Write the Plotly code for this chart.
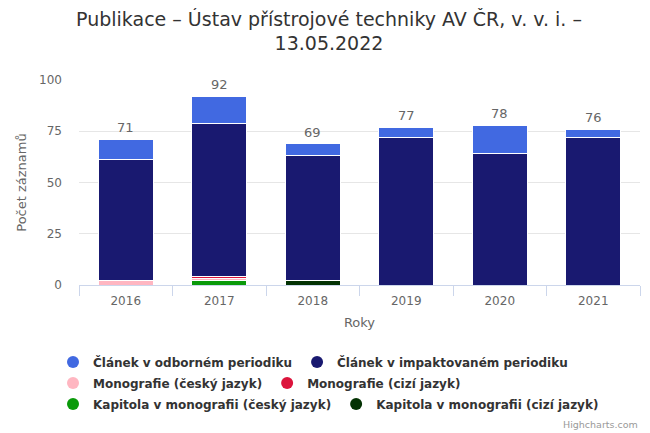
import plotly.graph_objects as go

years = ["2016", "2017", "2018", "2019", "2020", "2021"]

series_names = [
    "Článek v odborném periodiku",
    "Článek v impaktovaném periodiku",
    "Monografie (český jazyk)",
    "Monografie (cizí jazyk)",
    "Kapitola v monografii (český jazyk)",
    "Kapitola v monografii (cizí jazyk)",
]
clanek_odborny = [10, 13, 6, 5, 14, 4]
clanek_impakt = [59, 75, 61, 72, 64, 72]
monografie_cz = [2, 1, 0, 0, 0, 0]
monografie_cizi = [0, 1, 0, 0, 0, 0]
kapitola_cz = [0, 2, 0, 0, 0, 0]
kapitola_cizi = [0, 0, 2, 0, 0, 0]

colors = ["#4169e1", "#191970", "#ffb6c1", "#dc143c", "#0a9a0a", "#033203"]
values = [clanek_odborny, clanek_impakt, monografie_cz, monografie_cizi, kapitola_cz, kapitola_cizi]

totals = [sum(v[i] for v in values) for i in range(len(years))]

FONT = "DejaVu Sans"

# page body has an 8px margin: figure is drawn 8px smaller and offset
W, H = 642, 425
ML, MR, MT, MB = 71, 10, 72, 148
PH = H - MT - MB  # plot height in px


def py(px_from_top):
    """convert figure pixel y (from top) to paper y"""
    return 1 - (px_from_top - MT) / PH


def px_(px_from_left):
    return (px_from_left - ML) / (W - ML - MR)


fig = go.Figure()
# bars: bottom-most first in stacking order, legend handled by circle markers
stack_order = [5, 4, 2, 3, 1, 0]
for idx in stack_order:
    fig.add_trace(go.Bar(
        x=years, y=values[idx], name=series_names[idx],
        marker=dict(color=colors[idx], line=dict(color="white", width=1)),
        legendgroup=series_names[idx], showlegend=False,
        hoverinfo="x+y+name",
    ))

legend_ids = ["legend", "legend", "legend2", "legend2", "legend3", "legend3"]
for idx in range(len(series_names)):
    fig.add_trace(go.Scatter(
        x=[None], y=[None], mode="markers", name=series_names[idx],
        marker=dict(color=colors[idx], size=12, symbol="circle"),
        legendgroup=series_names[idx], showlegend=True,
        legend=legend_ids[idx],
    ))

for i, tot in enumerate(totals):
    fig.add_annotation(
        x=i, y=tot, text=str(tot), showarrow=False,
        xanchor="center", yanchor="bottom", yshift=2,
        font=dict(family=FONT, size=13, color="#666666"),
    )

leg_common = dict(
    orientation="h", xanchor="left", yanchor="top",
    traceorder="normal", bgcolor="rgba(0,0,0,0)",
    font=dict(family=FONT, size=12, color="#333333", weight="bold"),
    itemwidth=30, tracegroupgap=0,
)
leg_x = px_(45)

fig.update_layout(
    width=W, height=H,
    barmode="stack", bargap=0.41,
    plot_bgcolor="white", paper_bgcolor="white",
    margin=dict(l=ML, r=MR, t=MT, b=MB, autoexpand=False),
    title=dict(
        text="Publikace – Ústav přístrojové techniky AV ČR, v. v. i. –<br>13.05.2022",
        x=0.5, xanchor="center", y=1 - 17.5 / H, yanchor="top",
        font=dict(family="DejaVu Sans", size=19, color="#333333"),
    ),
    font=dict(family=FONT, color="#666666"),
    showlegend=True,
    legend=dict(leg_common, x=leg_x, y=py(339.5)),
    legend2=dict(leg_common, x=leg_x, y=py(360.5)),
    legend3=dict(leg_common, x=leg_x, y=py(381.5)),
)

fig.update_xaxes(
    type="category", range=[-0.5, len(years) - 0.5], tickson="boundaries",
    showline=True, linecolor="#ccd6eb", linewidth=1,
    ticks="outside", ticklen=10, tickcolor="#ccd6eb",
    ticklabelstandoff=5,
    tickfont=dict(family=FONT, size=12, color="#666666"),
    title=dict(text="Roky", font=dict(family=FONT, size=13, color="#666666"), standoff=10),
    showgrid=False,
)
fig.update_yaxes(
    range=[0, 100], tickvals=[0, 25, 50, 75, 100],
    showgrid=True, gridcolor="#e6e6e6", zeroline=False,
    tickfont=dict(family=FONT, size=12, color="#666666"),
    ticklabelstandoff=16,
    title=dict(text="Počet záznamů", font=dict(family=FONT, size=13, color="#666666"), standoff=9),
)

fig.add_annotation(
    text="Highcharts.com", xref="paper", yref="paper", x=1.0, y=py(416),
    xanchor="right", yanchor="middle", showarrow=False,
    font=dict(family=FONT, size=9.5, color="#999999"),
)

fig.write_html("out.html")
